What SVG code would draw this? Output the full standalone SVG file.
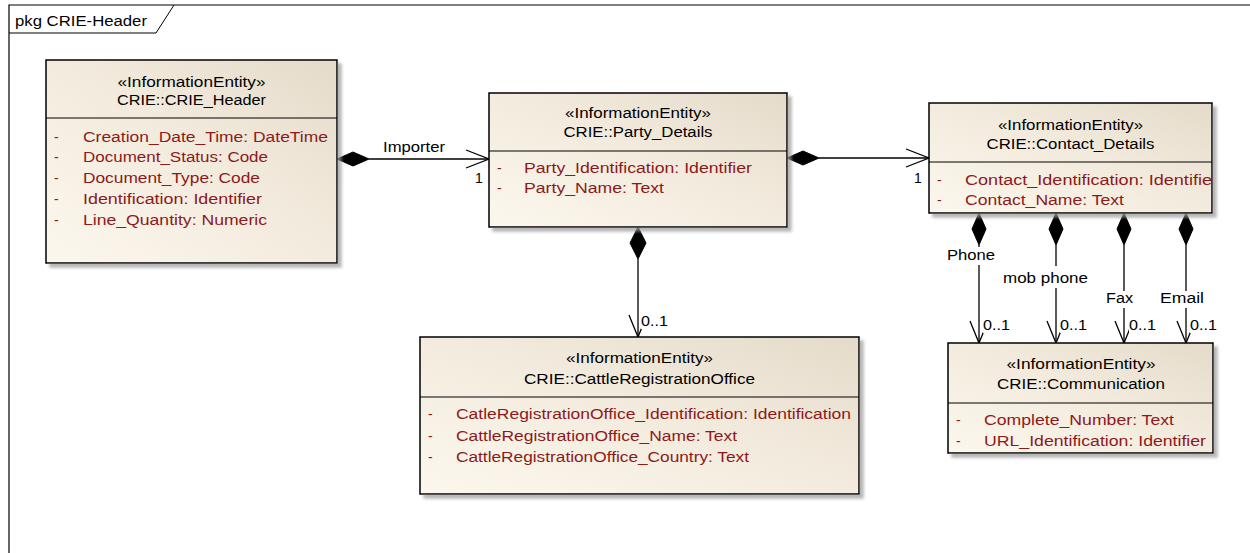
<svg xmlns="http://www.w3.org/2000/svg" width="1250" height="553" viewBox="0 0 1250 553">
<style>
.t{font-family:"Liberation Sans",Arial,sans-serif;font-size:14px;fill:#000}
.c{text-anchor:middle}
.a{font-family:"Liberation Sans",Arial,sans-serif;font-size:14px;fill:#8c1a1a}
.box{fill:url(#g);stroke:#000;stroke-width:1.5;filter:url(#sh)}
.div{stroke:#000;stroke-width:1}
.ln{stroke:#000;stroke-width:1.3;fill:none}
.dm{fill:#000;stroke:#000;stroke-width:1}
.bg{fill:#fff}
</style>
<defs>
<linearGradient id="g" x1="0" y1="1" x2="1" y2="0">
<stop offset="0" stop-color="#fcf7ee"/>
<stop offset="0.55" stop-color="#f2eadc"/>
<stop offset="1" stop-color="#e4dbca"/>
</linearGradient>
<filter id="sh" x="-5%" y="-5%" width="115%" height="120%">
<feDropShadow dx="4" dy="4" stdDeviation="1.5" flood-color="#999" flood-opacity="0.7"/>
</filter>
<clipPath id="c3"><rect x="929" y="162" width="282" height="50"/></clipPath>
</defs>
<rect width="1250" height="553" fill="#fff"/>
<g id="frame">
<path d="M9,553 V5 H1250" fill="none" stroke="#000" stroke-width="1.2"/>
<path d="M9,33 H156 L174,5" fill="none" stroke="#000" stroke-width="1"/>
<text class="t" x="15" y="26" textLength="132" lengthAdjust="spacingAndGlyphs">pkg CRIE-Header</text>
</g>
<g id="connectors">
<line class="ln" x1="369" y1="159" x2="489" y2="159"/>
<polygon class="dm" points="337,159 353,152 369,159 353,166"/>
<polyline class="ln" points="466,150 489,159 466,168"/>
<line class="ln" x1="819" y1="158" x2="929" y2="158"/>
<polygon class="dm" points="787,158 803,151 819,158 803,165"/>
<polyline class="ln" points="906,149 929,158 906,167"/>
<line class="ln" x1="638" y1="259" x2="638" y2="337"/>
<polygon class="dm" points="638,227 646,243 638,259 630,243"/>
<polyline class="ln" points="629,315 638,337 647,315"/>
<line class="ln" x1="979" y1="245" x2="979" y2="343"/>
<polygon class="dm" points="979,213 986,229 979,245 972,229"/>
<polyline class="ln" points="970,321 979,343 988,321"/>
<line class="ln" x1="1056" y1="245" x2="1056" y2="343"/>
<polygon class="dm" points="1056,213 1063,229 1056,245 1049,229"/>
<polyline class="ln" points="1047,321 1056,343 1065,321"/>
<line class="ln" x1="1124" y1="245" x2="1124" y2="343"/>
<polygon class="dm" points="1124,213 1131,229 1124,245 1117,229"/>
<polyline class="ln" points="1115,321 1124,343 1133,321"/>
<line class="ln" x1="1186" y1="245" x2="1186" y2="343"/>
<polygon class="dm" points="1186,213 1193,229 1186,245 1179,229"/>
<polyline class="ln" points="1177,321 1186,343 1195,321"/>
<text class="t" x="383" y="152" textLength="62" lengthAdjust="spacingAndGlyphs">Importer</text>
<text class="t" x="475" y="183">1</text>
<text class="t" x="914" y="183">1</text>
<rect class="bg" x="641" y="314" width="28" height="15"/>
<text class="t" x="641" y="326" textLength="27" lengthAdjust="spacingAndGlyphs">0..1</text>
<rect class="bg" x="945" y="247" width="52" height="18"/>
<text class="t" x="947" y="260" textLength="48" lengthAdjust="spacingAndGlyphs">Phone</text>
<rect class="bg" x="1001" y="266" width="90" height="22"/>
<text class="t" x="1003" y="283" textLength="85" lengthAdjust="spacingAndGlyphs">mob phone</text>
<rect class="bg" x="1104" y="291" width="31" height="17"/>
<text class="t" x="1106" y="303" textLength="27" lengthAdjust="spacingAndGlyphs">Fax</text>
<rect class="bg" x="1158" y="291" width="48" height="17"/>
<text class="t" x="1160" y="303" textLength="44" lengthAdjust="spacingAndGlyphs">Email</text>
<rect class="bg" x="983" y="318" width="28" height="15"/>
<text class="t" x="983" y="330" textLength="27" lengthAdjust="spacingAndGlyphs">0..1</text>
<rect class="bg" x="1060" y="318" width="28" height="15"/>
<text class="t" x="1060" y="330" textLength="27" lengthAdjust="spacingAndGlyphs">0..1</text>
<rect class="bg" x="1129" y="318" width="28" height="15"/>
<text class="t" x="1129" y="330" textLength="27" lengthAdjust="spacingAndGlyphs">0..1</text>
<rect class="bg" x="1190" y="318" width="28" height="15"/>
<text class="t" x="1190" y="330" textLength="27" lengthAdjust="spacingAndGlyphs">0..1</text>
</g>
<g id="crie_header">
<rect class="box" x="46" y="60" width="291" height="203"/>
<line class="div" x1="46" y1="118" x2="337" y2="118"/>
<text class="t c" x="191.5" y="87" textLength="148" lengthAdjust="spacingAndGlyphs">«InformationEntity»</text>
<text class="t c" x="191.5" y="105" textLength="149" lengthAdjust="spacingAndGlyphs">CRIE::CRIE_Header</text>
<text class="a" x="54" y="142">-</text><text class="a" x="83" y="142" textLength="245" lengthAdjust="spacingAndGlyphs">Creation_Date_Time: DateTime</text>
<text class="a" x="54" y="162">-</text><text class="a" x="83" y="162" textLength="185" lengthAdjust="spacingAndGlyphs">Document_Status: Code</text>
<text class="a" x="54" y="183">-</text><text class="a" x="83" y="183" textLength="177" lengthAdjust="spacingAndGlyphs">Document_Type: Code</text>
<text class="a" x="54" y="204">-</text><text class="a" x="83" y="204" textLength="179" lengthAdjust="spacingAndGlyphs">Identification: Identifier</text>
<text class="a" x="54" y="225">-</text><text class="a" x="83" y="225" textLength="184" lengthAdjust="spacingAndGlyphs">Line_Quantity: Numeric</text>
</g>
<g id="party_details">
<rect class="box" x="489" y="93" width="298" height="134"/>
<line class="div" x1="489" y1="151" x2="787" y2="151"/>
<text class="t c" x="638" y="118" textLength="146" lengthAdjust="spacingAndGlyphs">«InformationEntity»</text>
<text class="t c" x="638" y="137" textLength="149" lengthAdjust="spacingAndGlyphs">CRIE::Party_Details</text>
<text class="a" x="497" y="173">-</text><text class="a" x="524" y="173" textLength="228" lengthAdjust="spacingAndGlyphs">Party_Identification: Identifier</text>
<text class="a" x="497" y="193">-</text><text class="a" x="524" y="193" textLength="140" lengthAdjust="spacingAndGlyphs">Party_Name: Text</text>
</g>
<g id="contact_details">
<rect class="box" x="929" y="103" width="283" height="110"/>
<line class="div" x1="929" y1="162" x2="1212" y2="162"/>
<text class="t c" x="1070.5" y="130" textLength="145" lengthAdjust="spacingAndGlyphs">«InformationEntity»</text>
<text class="t c" x="1070.5" y="149" textLength="168" lengthAdjust="spacingAndGlyphs">CRIE::Contact_Details</text>
<text class="a" x="937" y="185">-</text><text class="a" x="965" y="185" textLength="253" lengthAdjust="spacingAndGlyphs" clip-path="url(#c3)">Contact_Identification: Identifier</text>
<text class="a" x="937" y="205">-</text><text class="a" x="965" y="205" textLength="159" lengthAdjust="spacingAndGlyphs">Contact_Name: Text</text>
</g>
<g id="cattle_registration_office">
<rect class="box" x="420" y="337" width="439" height="157"/>
<line class="div" x1="420" y1="397" x2="859" y2="397"/>
<text class="t c" x="639.5" y="363" textLength="147" lengthAdjust="spacingAndGlyphs">«InformationEntity»</text>
<text class="t c" x="639.5" y="384" textLength="231" lengthAdjust="spacingAndGlyphs">CRIE::CattleRegistrationOffice</text>
<text class="a" x="428" y="419">-</text><text class="a" x="456" y="419" textLength="395" lengthAdjust="spacingAndGlyphs">CatleRegistrationOffice_Identification: Identification</text>
<text class="a" x="428" y="441">-</text><text class="a" x="456" y="441" textLength="281" lengthAdjust="spacingAndGlyphs">CattleRegistrationOffice_Name: Text</text>
<text class="a" x="428" y="462">-</text><text class="a" x="456" y="462" textLength="293" lengthAdjust="spacingAndGlyphs">CattleRegistrationOffice_Country: Text</text>
</g>
<g id="communication">
<rect class="box" x="948" y="343" width="265" height="110"/>
<line class="div" x1="948" y1="403" x2="1213" y2="403"/>
<text class="t c" x="1081" y="369" textLength="149" lengthAdjust="spacingAndGlyphs">«InformationEntity»</text>
<text class="t c" x="1081" y="389" textLength="168" lengthAdjust="spacingAndGlyphs">CRIE::Communication</text>
<text class="a" x="956" y="425">-</text><text class="a" x="984" y="425" textLength="190" lengthAdjust="spacingAndGlyphs">Complete_Number: Text</text>
<text class="a" x="956" y="446">-</text><text class="a" x="984" y="446" textLength="222" lengthAdjust="spacingAndGlyphs">URL_Identification: Identifier</text>
</g>
</svg>
